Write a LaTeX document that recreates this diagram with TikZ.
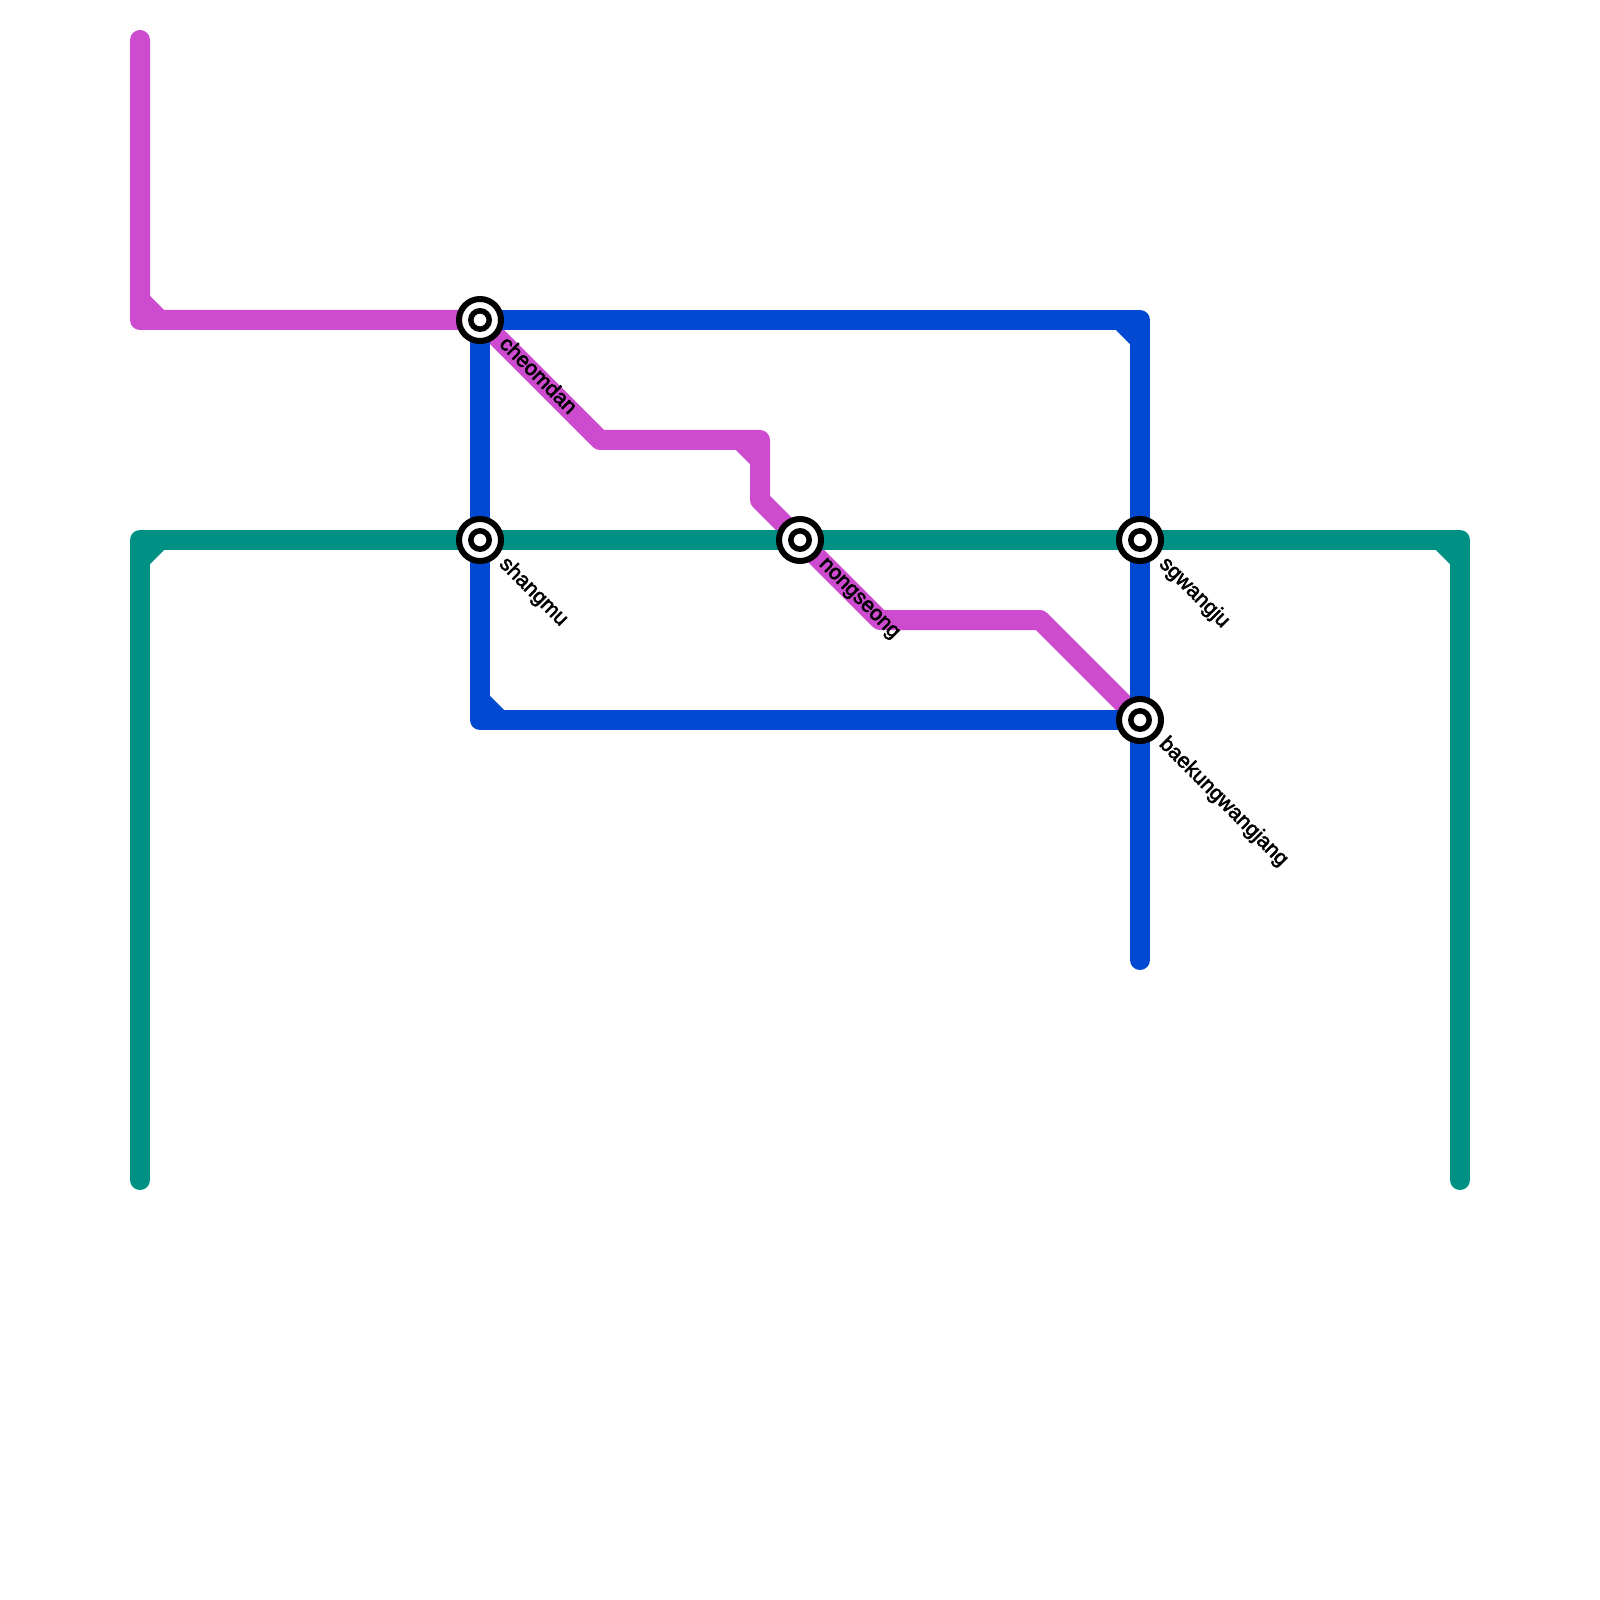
\documentclass[tikz,border=0pt]{standalone}
\usepackage{xcolor}
\usepackage{fontspec}
\setmainfont[FakeBold=2.4]{Liberation Sans}
\usepackage{tikz}
\usetikzlibrary{backgrounds}
\definecolor{linemagenta}{RGB}{204, 75, 207}
\definecolor{lineblue}{RGB}{0, 73, 208}
\definecolor{lineteal}{RGB}{0, 145, 133}

\begin{document}
\begin{tikzpicture}[
    route/.style={line width=0.2cm, line join=round, line cap=round},
    chamfer/.style={line width=0.2cm, line cap=butt},
    station/.style={circle, draw=black, fill=white, line width=0.06cm, minimum size=0.42cm, inner sep=0pt, path picture={\draw[line width=0.055cm] (path picture bounding box.center) circle (0.092cm);}},
    stationlabel/.style={rotate=-45, anchor=base west, inner sep=0pt, font=\fontsize{6.05pt}{7pt}\selectfont}
]
    \useasboundingbox (0,0) rectangle (16,-16);

    \node[station] (cheomdan) at (4.8,-3.2) {};
    \node[station] (shangmu) at (4.8,-5.4) {};
    \node[station] (nongseong) at (8,-5.4) {};
    \node[station] (sgwangju) at (11.4,-5.4) {};
    \node[station] (baekung) at (11.4,-7.2) {};

    \node[stationlabel] (cheomdanlabel) at (4.98,-3.445) {cheomdan};
    \node[stationlabel] (shangmulabel) at (4.98,-5.645) {shangmu};
    \node[stationlabel] (nongseonglabel) at (8.18,-5.645) {nongseong};
    \node[stationlabel] (sgwangjulabel) at (11.58,-5.645) {sgwangju};
    \node[stationlabel] (baekunglabel) at (11.58,-7.445) {baekungwangjang};

    % line ends and bends
    \coordinate (mstart) at (1.4,-0.4);
    \coordinate (mcorner) at (1.4,-3.2);
    \coordinate (mbenda) at (6,-4.4);
    \coordinate (mbendb) at (7.6,-4.4);
    \coordinate (mbendc) at (7.6,-5);
    \coordinate (mbendd) at (8.8,-6.2);
    \coordinate (mbende) at (10.4,-6.2);
    \coordinate (bcornera) at (11.4,-3.2);
    \coordinate (bcornerb) at (4.8,-7.2);
    \coordinate (bend) at (11.4,-9.6);
    \coordinate (tstarta) at (1.4,-11.8);
    \coordinate (tcornera) at (1.4,-5.4);
    \coordinate (tcornerb) at (14.6,-5.4);
    \coordinate (tend) at (14.6,-11.8);

    \begin{scope}[on background layer]
        \draw[route, linemagenta] (mstart) -- (mcorner) -- (cheomdan.center) -- (mbenda) -- (mbendb) -- (mbendc) -- (nongseong.center) -- (mbendd) -- (mbende) -- (baekung.center);
        \draw[chamfer, linemagenta] ([yshift=0.2cm]mcorner) -- ([xshift=0.2cm]mcorner);
        \draw[chamfer, linemagenta] ([xshift=-0.2cm]mbendb) -- ([yshift=-0.2cm]mbendb);

        \draw[route, lineblue] (cheomdan.center) -- (bcornera) -- (sgwangju.center) -- (baekung.center) -- (bend);
        \draw[route, lineblue] (cheomdan.center) -- (shangmu.center) -- (bcornerb) -- (baekung.center);
        \draw[chamfer, lineblue] ([xshift=-0.2cm]bcornera) -- ([yshift=-0.2cm]bcornera);
        \draw[chamfer, lineblue] ([yshift=0.2cm]bcornerb) -- ([xshift=0.2cm]bcornerb);

        \draw[route, lineteal] (tstarta) -- (tcornera) -- (shangmu.center) -- (nongseong.center) -- (sgwangju.center) -- (tcornerb) -- (tend);
        \draw[chamfer, lineteal] ([yshift=-0.2cm]tcornera) -- ([xshift=0.2cm]tcornera);
        \draw[chamfer, lineteal] ([xshift=-0.2cm]tcornerb) -- ([yshift=-0.2cm]tcornerb);
    \end{scope}
\end{tikzpicture}
\end{document}
